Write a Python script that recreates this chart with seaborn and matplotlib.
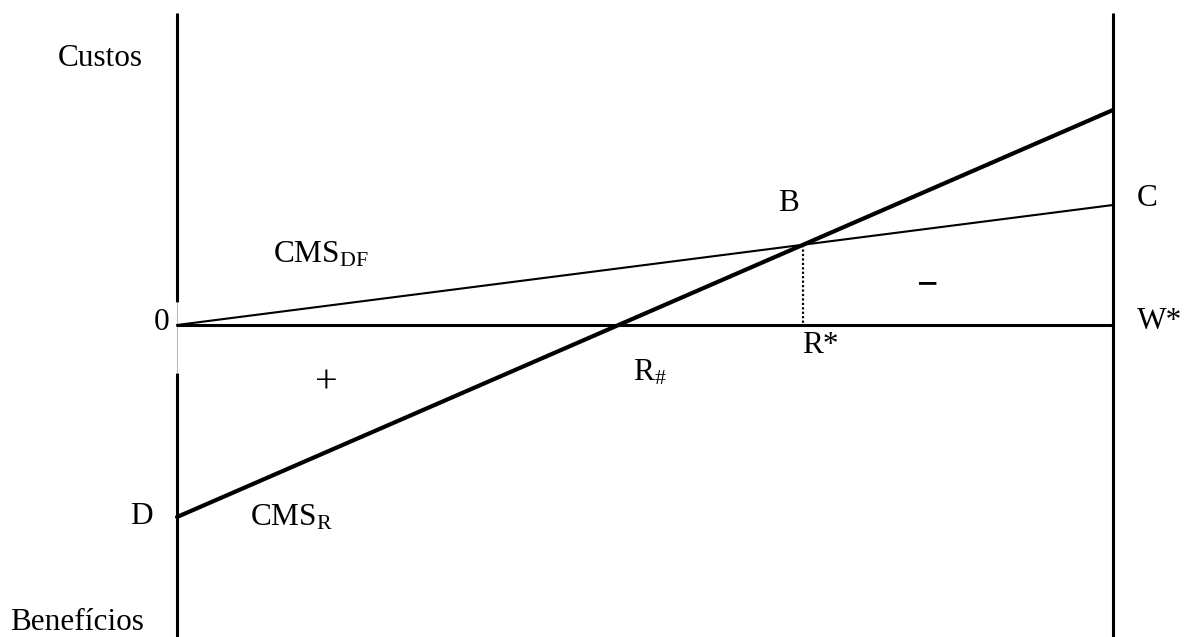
import numpy as np
import pandas as pd
import matplotlib
matplotlib.use("Agg")
import matplotlib.pyplot as plt
import seaborn as sns

# eixo horizontal: 0 .. W*
x_ends = [0, 100]
# CMS_DF (fina) e CMS_R (grossa) nos extremos
cms_df = [0, 12.0]
cms_r = [-19.2, 21.5]
# eixos verticais
axis_top = 31.2
axis_bottom = -32.0
gap_top, gap_bottom = 2.3, -4.8

sns.set_style("white")
plt.rcParams['font.family'] = ['Liberation Serif', 'DejaVu Serif']
plt.rcParams['text.color'] = 'black'
plt.rcParams['mathtext.fontset'] = 'custom'
plt.rcParams['mathtext.rm'] = 'Liberation Serif'
plt.rcParams['mathtext.it'] = 'Liberation Serif:italic'

fig = plt.figure(figsize=(11.89, 6.37), dpi=100)
ax = fig.add_axes([0, 0, 1, 1])

df = pd.DataFrame({'x': x_ends, 'df': cms_df, 'r': cms_r})

# eixos
ax.plot([0, 0], [axis_top, gap_top], color='black', lw=2.2, solid_capstyle='butt')
ax.plot([0, 0], [gap_bottom, axis_bottom], color='black', lw=2.2, solid_capstyle='butt')
ax.plot([0, 0], [gap_top, gap_bottom], color='#bbbbbb', lw=0.8)
ax.plot([100, 100], [axis_top, axis_bottom], color='black', lw=2.2, solid_capstyle='butt')
sns.lineplot(data=df, x='x', y=[0, 0], color='black', linewidth=2.2, ax=ax)

# curvas
sns.lineplot(data=df, x='x', y='df', color='black', linewidth=1.5, ax=ax)
sns.lineplot(data=df, x='x', y='r', color='black', linewidth=3.0, ax=ax)

# ponto B / R* (interseccao) e R# (corte no zero)
slope_df = (cms_df[1] - cms_df[0]) / (x_ends[1] - x_ends[0])
slope_r = (cms_r[1] - cms_r[0]) / (x_ends[1] - x_ends[0])
r_star = (cms_r[0] - cms_df[0]) / (slope_df - slope_r)
b_y = cms_df[0] + slope_df * r_star
ax.plot([r_star, r_star], [b_y, 0], color='black', lw=1.6, linestyle=(0, (1, 1)))

fs = 22.5
ax.text(-8.2, 26.7, "Custos", fontsize=fs, ha='center', va='center')
ax.text(-10.7, -29.8, "Benefícios", fontsize=fs, ha='center', va='center')
ax.text(-1.7, 0.3, "0", fontsize=fs, ha='center', va='center')
ax.text(-3.85, -19.2, "D", fontsize=fs, ha='center', va='center')
ax.text(7.8, -20.0, r"CMS$_{\mathrm{R}}$", fontsize=fs, ha='left', va='baseline')
ax.text(10.3, 6.3, r"CMS$_{\mathrm{DF}}$", fontsize=fs, ha='left', va='baseline')
ax.text(65.3, 12.2, "B", fontsize=fs, ha='center', va='center')
ax.text(68.7, -2.0, "R*", fontsize=fs, ha='center', va='center')
ax.text(48.7, -5.5, r"R$_{\#}$", fontsize=fs, ha='left', va='baseline')
ax.text(103.6, 12.7, "C", fontsize=fs, ha='center', va='center')
ax.text(105.0, 0.4, "W*", fontsize=fs, ha='center', va='center')
ax.text(16.0, -5.8, "+", fontsize=29, ha='center', va='center')
ax.text(80.1, 3.9, "−", fontsize=27, fontweight='bold', ha='center', va='center')

ax.set_xlim(-18.91, 108.12)
ax.set_ylim(-31.2, 32.5)
ax.set_axis_off()
if ax.get_legend() is not None:
    ax.get_legend().remove()

fig.savefig("out.png", dpi=100)
